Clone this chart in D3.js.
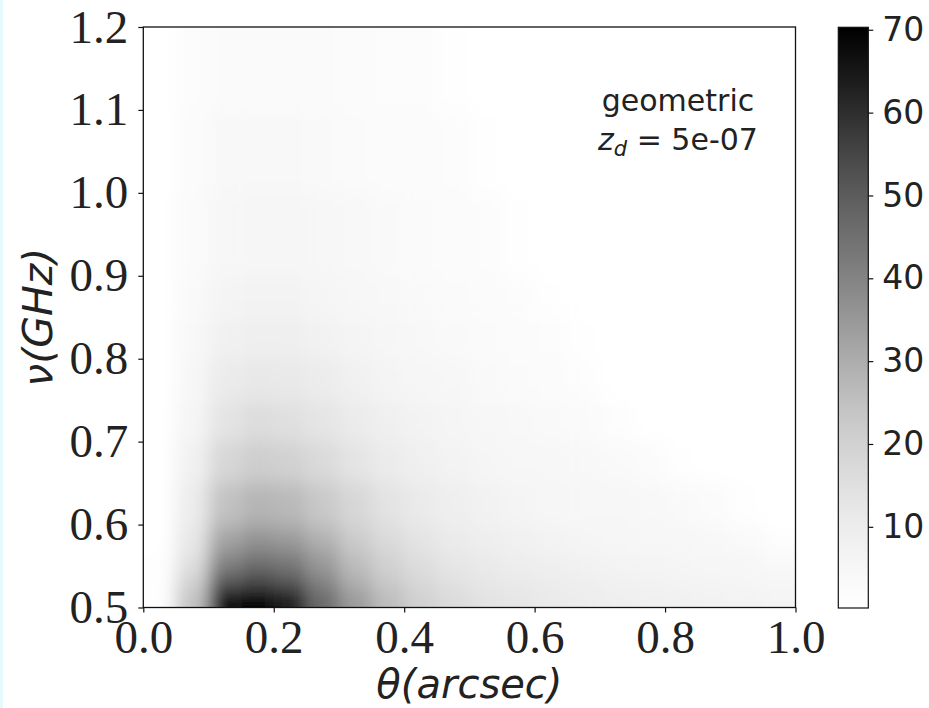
<!DOCTYPE html>
<html>
<head>
<meta charset="utf-8">
<script src="https://cdn.jsdelivr.net/npm/d3@7"></script>
<style>
body { margin: 0; background: #fff; }
svg { display: block; }
</style>
</head>
<body>
<svg width="929" height="708"></svg>
<script>
// grid edges of the map
var thetaEdges = [0, 0.05, 0.1, 0.15, 0.2, 0.25, 0.3, 0.35, 0.4, 0.45, 0.5,
                  0.55, 0.6, 0.65, 0.7, 0.75, 0.8, 0.85, 0.9, 0.95, 1.0];
var nuEdges = [0.5, 0.525, 0.55, 0.575, 0.6, 0.65, 0.7, 0.75, 0.8, 0.85, 0.9, 1.0, 1.1, 1.2];

// intensity, one row per nu bin (bottom to top), one value per theta bin
var intensity = [
  [0.5, 24, 68, 74, 64, 46, 34, 26, 20, 16.5, 14, 12.5, 11, 10, 9, 8.5, 8, 7.5, 7, 6.5],
  [0.5, 18, 47, 52, 48, 38, 28, 21.5, 17, 14, 12, 10.5, 9.5, 8.5, 7.5, 7, 6.5, 6, 5.5, 5],
  [0.5, 14, 37, 42, 40, 33, 25, 19, 15, 12, 10.5, 9, 8, 7, 6.5, 6, 5.5, 5, 4.5, 3.2],
  [0.4, 12, 31, 35, 33, 28, 21, 16.5, 13, 10.5, 9, 8, 7, 6, 5.5, 5, 4.5, 4, 3, 1],
  [0.4, 10, 24.5, 28, 27, 22.5, 18, 14, 11, 9, 7.5, 6.5, 5.5, 5, 4.6, 4.2, 3.5, 2.5, 0.8, 0.3],
  [0.3, 8, 18, 21, 20, 17, 13.5, 10.5, 8.5, 7, 6, 5, 4.5, 4, 3.5, 2.5, 0.8, 0.3, 0.2, 0.2],
  [0.3, 6, 13.5, 16, 15, 13, 10.5, 8.5, 7, 5.6, 4.7, 4.1, 3.5, 3, 1.5, 0.4, 0.2, 0.2, 0.2, 0.2],
  [0.3, 5, 10.5, 12, 11.5, 10, 8, 6.5, 5.5, 4.6, 3.9, 3.3, 2.8, 1.5, 0.4, 0.2, 0.2, 0.2, 0.2, 0.2],
  [0.3, 4, 8, 9, 8.8, 7.5, 6.2, 5.2, 4.3, 3.6, 3, 2.6, 1.8, 0.5, 0.2, 0.2, 0.2, 0.2, 0.2, 0.2],
  [0.3, 3.5, 6.3, 7, 6.8, 6, 5, 4.2, 3.5, 3, 2.5, 2, 0.7, 0.2, 0.2, 0.2, 0.2, 0.2, 0.2, 0.2],
  [0.2, 3, 5, 5.5, 5.3, 4.7, 4, 3.4, 2.9, 2.5, 2, 0.8, 0.2, 0.2, 0.2, 0.2, 0.2, 0.2, 0.2, 0.2],
  [0.2, 2.5, 4, 4.2, 4, 3.6, 3.1, 2.7, 2.3, 1.8, 0.6, 0.2, 0.2, 0.2, 0.2, 0.2, 0.2, 0.2, 0.2, 0.2],
  [0.2, 2, 3.2, 3.3, 3.2, 2.9, 2.5, 2.2, 1.8, 0.6, 0.2, 0.2, 0.2, 0.2, 0.2, 0.2, 0.2, 0.2, 0.2, 0.2]
];

var xTicks = [0.0, 0.2, 0.4, 0.6, 0.8, 1.0];
var yTicks = [0.5, 0.6, 0.7, 0.8, 0.9, 1.0, 1.1, 1.2];
var cbTicks = [10, 20, 30, 40, 50, 60, 70];
var cbRange = [0.2, 70.3];

var svg = d3.select("svg");
var plot = {left: 143.3, right: 795.5, top: 27, bottom: 607.5};
var cb = {left: 838.3, right: 868.3, top: 27.3, bottom: 608};

var x = d3.scaleLinear().domain([0, 1]).range([plot.left, plot.right]);
var y = d3.scaleLinear().domain([0.5, 1.2]).range([plot.bottom, plot.top]);
var color = d3.scaleSequential(d3.interpolateGreys).domain(cbRange);
var yCb = d3.scaleLinear().domain(cbRange).range([cb.bottom, cb.top]);

svg.append("rect").attr("width", 929).attr("height", 708).attr("fill", "#fff");
svg.append("rect").attr("width", 3).attr("height", 708).attr("fill", "#e6fafd");

var defs = svg.append("defs");
defs.append("clipPath").attr("id", "clip")
  .append("rect")
  .attr("x", plot.left).attr("y", plot.top)
  .attr("width", plot.right - plot.left).attr("height", plot.bottom - plot.top);

defs.append("filter").attr("id", "smooth")
  .attr("filterUnits", "userSpaceOnUse")
  .attr("x", 0).attr("y", 0).attr("width", 929).attr("height", 708)
  .append("feGaussianBlur").attr("stdDeviation", "9 10");

var grad = defs.append("linearGradient").attr("id", "cbgrad")
  .attr("x1", 0).attr("y1", 1).attr("x2", 0).attr("y2", 0);
d3.range(0, 1.0001, 0.05).forEach(function (t) {
  grad.append("stop").attr("offset", t)
    .attr("stop-color", color(cbRange[0] + t * (cbRange[1] - cbRange[0])));
});

// heat map cells
var cells = [];
intensity.forEach(function (row, r) {
  row.forEach(function (v, c) {
    cells.push({r: r, c: c, v: v});
  });
});
var pad = 40;
var nR = intensity.length, nC = thetaEdges.length - 1;

svg.append("g").attr("clip-path", "url(#clip)")
  .append("g").attr("filter", "url(#smooth)")
  .selectAll("rect")
  .data(cells)
  .enter().append("rect")
  .attr("x", function (d) { return x(thetaEdges[d.c]) - (d.c === 0 ? pad : 0); })
  .attr("y", function (d) { return y(nuEdges[d.r + 1]) - (d.r === nR - 1 ? pad : 0); })
  .attr("width", function (d) {
    return x(thetaEdges[d.c + 1]) - x(thetaEdges[d.c]) + 0.5 + (d.c === 0 ? pad : 0) + (d.c === nC - 1 ? pad : 0);
  })
  .attr("height", function (d) {
    return y(nuEdges[d.r]) - y(nuEdges[d.r + 1]) + 0.5 + (d.r === 0 ? pad : 0) + (d.r === nR - 1 ? pad : 0);
  })
  .attr("fill", function (d) { return color(d.v); });

// axes
var xAxis = d3.axisBottom(x).tickValues(xTicks).tickSize(5).tickPadding(7).tickFormat(d3.format(".1f"));
var yAxis = d3.axisLeft(y).tickValues(yTicks).tickSize(5).tickPadding(10).tickFormat(d3.format(".1f"));

var gx = svg.append("g").attr("transform", "translate(0," + plot.bottom + ")").call(xAxis);
var gy = svg.append("g").attr("transform", "translate(" + plot.left + ",0)").call(yAxis);
[gx, gy].forEach(function (g) {
  g.select(".domain").remove();
  g.selectAll("line").attr("stroke", "#111").attr("stroke-width", 1.2);
  g.selectAll("text").attr("fill", "#222")
    .style("font-family", "'Liberation Serif', 'Times New Roman', serif")
    .style("font-size", "47px");
});

svg.append("rect")
  .attr("x", plot.left).attr("y", plot.top)
  .attr("width", plot.right - plot.left).attr("height", plot.bottom - plot.top)
  .attr("fill", "none").attr("stroke", "#111").attr("stroke-width", 1.3);

// axis labels
svg.append("text")
  .attr("x", (plot.left + plot.right) / 2).attr("y", 698)
  .attr("text-anchor", "middle")
  .style("font-family", "'DejaVu Sans', sans-serif").style("font-style", "italic")
  .style("font-size", "40px").attr("fill", "#222")
  .text("θ(arcsec)");

svg.append("text")
  .attr("transform", "translate(52," + (plot.top + plot.bottom) / 2 + ") rotate(-90)")
  .attr("text-anchor", "middle")
  .style("font-family", "'DejaVu Sans', sans-serif").style("font-style", "italic")
  .style("font-size", "41px").attr("fill", "#222")
  .text("ν(GHz)");

// annotation
var ann = svg.append("g")
  .style("font-family", "'DejaVu Sans', sans-serif").style("font-size", "30px").attr("fill", "#222");
ann.append("text").attr("x", 678).attr("y", 111).attr("text-anchor", "middle").text("geometric");
var zt = ann.append("text").attr("x", 678).attr("y", 150).attr("text-anchor", "middle");
zt.append("tspan").style("font-style", "italic").text("z");
zt.append("tspan").style("font-style", "italic").style("font-size", "21px").attr("dy", 6).text("d");
zt.append("tspan").attr("dy", -6).text(" = 5e-07");

// colorbar
svg.append("rect")
  .attr("x", cb.left).attr("y", cb.top)
  .attr("width", cb.right - cb.left).attr("height", cb.bottom - cb.top)
  .attr("fill", "url(#cbgrad)").attr("stroke", "#111").attr("stroke-width", 1.2);

var cbAxis = d3.axisRight(yCb).tickValues(cbTicks).tickSize(5).tickPadding(9);
var gcb = svg.append("g").attr("transform", "translate(" + cb.right + ",0)").call(cbAxis);
gcb.select(".domain").remove();
gcb.selectAll("line").attr("stroke", "#111").attr("stroke-width", 1.2);
gcb.selectAll("text").attr("fill", "#222")
  .style("font-family", "'DejaVu Sans', sans-serif")
  .style("font-size", "33px");
</script>
</body>
</html>
